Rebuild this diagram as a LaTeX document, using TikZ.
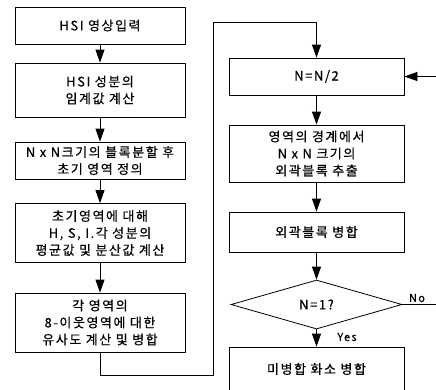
\documentclass[tikz,border=0pt]{standalone}
\usepackage{fontspec}
\newfontfamily\kr[LetterSpace=12,FakeBold=0.4]{Noto Sans CJK KR}
\usetikzlibrary{arrows.meta,shapes.geometric}
\tikzset{
  box/.style={draw,line width=0.8pt,rectangle,inner sep=0pt,align=center,
    font=\kr\fontsize{13}{17}\selectfont},
  lbox/.style={box,minimum width=170pt},
  rbox/.style={box,minimum width=175pt},
  arr/.style={line width=0.8pt,-{Triangle[length=13pt,width=9pt]}},
  ln/.style={line width=0.8pt},
  lbl/.style={font=\kr\fontsize{11}{12}\selectfont,inner sep=0pt}
}
\begin{document}
\begin{tikzpicture}[x=1pt,y=-1pt]
\useasboundingbox (0,0) rectangle (436,389);
\clip (0,0) rectangle (436,389);
% left column
\node[lbox,minimum height=37pt] (b1) at (100,25.5) {HSI 영상입력};
\node[lbox,minimum height=54pt] (b2) at (100,90) {HSI 성분의\\임계값 계산};
\node[lbox,minimum height=37pt] (b3) at (100,160.5) {N x N크기의 블록분할 후\\초기 영역 정의};
\node[lbox,minimum height=59pt] (b4) at (100,233) {초기영역에 대해\\H, S, I.각 성분의\\평균값 및 분산값 계산};
\node[lbox,minimum height=59pt] (b5) at (100,322.5) {각 영역의\\8-이웃영역에 대한\\유사도 계산 및 병합};
% right column
\node[rbox,minimum height=37pt] (r1) at (316.5,76.5) {N=N/2};
\node[rbox,minimum height=57pt] (r2) at (316.5,153.5) {영역의 경계에서\\N x N 크기의\\외곽블록 추출};
\node[rbox,minimum height=40pt] (r3) at (316.5,232) {외곽블록 병합};
\node[draw,line width=0.8pt,diamond,minimum width=171pt,minimum height=49pt,inner sep=0pt,
  font=\kr\fontsize{13}{14}\selectfont] (d) at (316.5,304.5) {N=1?};
\node[rbox,minimum height=50pt] (r4) at (316.5,372) {};
\node[font=\kr\fontsize{13}{14}\selectfont,inner sep=0pt] (r4t) at (316.5,369) {미병합 화소 병합};
% coordinates
\coordinate (lp1) at (100,375);
\coordinate (lp2) at (213,375);
\coordinate (lp3) at (213,22);
\coordinate (lp4) at (316.5,22);
\coordinate (noend) at (436,304.5);
\coordinate (inend) at (436,76.5);
% connectors
\draw[arr] (b1) -- (b2);
\draw[arr] (b2) -- (b3);
\draw[arr] (b3) -- (b4);
\draw[arr] (b4) -- (b5);
\draw[ln] (b5.south) -- (lp1) -- (lp2) -- (lp3) -- (lp4);
\draw[arr] (lp4) -- (r1.north);
\draw[arr] (r1) -- (r2);
\draw[arr] (r2) -- (r3);
\draw[arr] (r3.south) -- (d.north);
\draw[arr] (d.south) -- (r4.north);
\draw[ln] (d.east) -- (noend);
\draw[arr] (inend) -- (r1.east);
\node[lbl] (no) at (417,298) {No};
\node[lbl] (yes) at (347,337) {Yes};
\end{tikzpicture}
\end{document}
